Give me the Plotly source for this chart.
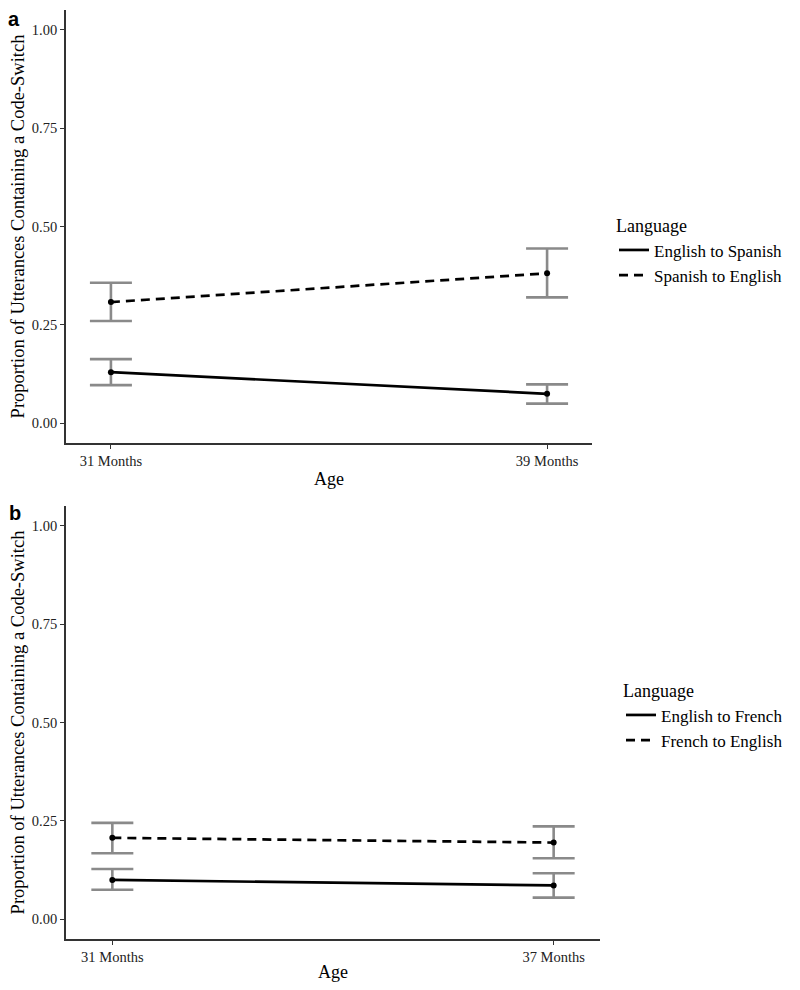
import plotly.graph_objects as go

# ---------------- data ----------------
ages_a = ["31 Months", "39 Months"]
eng_spa_mean = [0.130, 0.075]
eng_spa_low = [0.097, 0.050]
eng_spa_high = [0.163, 0.099]
spa_eng_mean = [0.308, 0.381]
spa_eng_low = [0.260, 0.320]
spa_eng_high = [0.357, 0.444]

ages_b = ["31 Months", "37 Months"]
eng_fre_mean = [0.100, 0.086]
eng_fre_low = [0.075, 0.055]
eng_fre_high = [0.128, 0.117]
fre_eng_mean = [0.207, 0.195]
fre_eng_low = [0.168, 0.155]
fre_eng_high = [0.245, 0.236]

y_ticks = [0.0, 0.25, 0.5, 0.75, 1.0]
y_ticktext = ["0.00", "0.25", "0.50", "0.75", "1.00"]

# page has an 8px body margin; figure sized to fit the 800x990 window
OFF = 8
W, H = 800 - 2 * OFF, 990 - 2 * OFF
SERIF = "Liberation Serif, Times New Roman, serif"
ERR_COL = "#8a8a8a"
AX_COL = "#333333"


def px_x(p):
    return (p - OFF) / W


def px_y(p):
    return 1 - (p - OFF) / H


fig = go.Figure()


def add_series(xcats, mean, low, high, name, dash, xa, ya, legend):
    plus = [h - m for h, m in zip(high, mean)]
    minus = [m - l for m, l in zip(mean, low)]
    fig.add_trace(go.Scatter(
        x=xcats, y=mean, mode="markers", xaxis=xa, yaxis=ya,
        marker=dict(color="rgba(0,0,0,0)", size=1),
        error_y=dict(type="data", symmetric=False, array=plus, arrayminus=minus,
                     color=ERR_COL, thickness=2.6, width=21),
        showlegend=False, hoverinfo="skip"))
    fig.add_trace(go.Scatter(
        x=xcats, y=mean, mode="lines", xaxis=xa, yaxis=ya, name=name,
        line=dict(color="black", width=2.7, dash=dash), legend=legend))
    fig.add_trace(go.Scatter(
        x=xcats, y=mean, mode="markers", xaxis=xa, yaxis=ya,
        marker=dict(color="black", size=6), showlegend=False))


DASH = "9px,6px"
add_series(ages_a, eng_spa_mean, eng_spa_low, eng_spa_high, "English to Spanish", "solid", "x", "y", "legend")
add_series(ages_a, spa_eng_mean, spa_eng_low, spa_eng_high, "Spanish to English", DASH, "x", "y", "legend")
add_series(ages_b, eng_fre_mean, eng_fre_low, eng_fre_high, "English to French", "solid", "x2", "y2", "legend2")
add_series(ages_b, fre_eng_mean, fre_eng_low, fre_eng_high, "French to English", DASH, "x2", "y2", "legend2")


def xaxis_cfg(x0, x1, anchor, pad):
    return dict(domain=[px_x(x0), px_x(x1)], anchor=anchor, type="category",
                range=[-pad, 1 + pad], showline=True, linecolor=AX_COL, linewidth=1.8,
                ticks="outside", ticklen=4, tickcolor=AX_COL, tickwidth=1.3,
                showgrid=False, zeroline=False,
                tickfont=dict(family=SERIF, size=14.5, color="#222222"),
                title=dict(text="Age", font=dict(family=SERIF, size=18, color="black"), standoff=4))


def yaxis_cfg(top, bottom, anchor):
    return dict(domain=[px_y(bottom), px_y(top)], anchor=anchor,
                range=[-0.05, 1.05], showline=True, linecolor=AX_COL, linewidth=1.8,
                ticks="outside", ticklen=4, tickcolor=AX_COL, tickwidth=1.3,
                showgrid=False, zeroline=False,
                tickvals=y_ticks, ticktext=y_ticktext,
                tickfont=dict(family=SERIF, size=14.5, color="#222222"),
                title=dict(text="Proportion of Utterances Containing a Code-Switch",
                           font=dict(family=SERIF, size=18.5, color="black"), standoff=5))


LEG_TITLE = dict(family=SERIF, size=18, color="black")
LEG_FONT = dict(family=SERIF, size=17, color="black")

fig.update_layout(
    width=W, height=H, margin=dict(l=0, r=0, t=0, b=0),
    paper_bgcolor="white", plot_bgcolor="white",
    xaxis=xaxis_cfg(66, 592, "y", 0.103),
    yaxis=yaxis_cfg(10, 443, "x"),
    xaxis2=xaxis_cfg(66, 600, "y2", 0.105),
    yaxis2=yaxis_cfg(506, 939, "x2"),
    legend=dict(x=px_x(614), y=px_y(209), xanchor="left", yanchor="top",
                title=dict(text="Language", font=LEG_TITLE),
                font=LEG_FONT, bgcolor="rgba(0,0,0,0)", tracegroupgap=2),
    legend2=dict(x=px_x(621), y=px_y(674), xanchor="left", yanchor="top",
                 title=dict(text="Language", font=LEG_TITLE),
                 font=LEG_FONT, bgcolor="rgba(0,0,0,0)", tracegroupgap=2),
    annotations=[
        dict(text="<b>a</b>", x=px_x(14), y=px_y(19), xref="paper", yref="paper",
             xanchor="center", yanchor="middle", showarrow=False,
             font=dict(family="Liberation Sans, Arial, sans-serif", size=20, color="black")),
        dict(text="<b>b</b>", x=px_x(15), y=px_y(513), xref="paper", yref="paper",
             xanchor="center", yanchor="middle", showarrow=False,
             font=dict(family="Liberation Sans, Arial, sans-serif", size=20, color="black")),
    ],
)

fig.write_html("out.html")
